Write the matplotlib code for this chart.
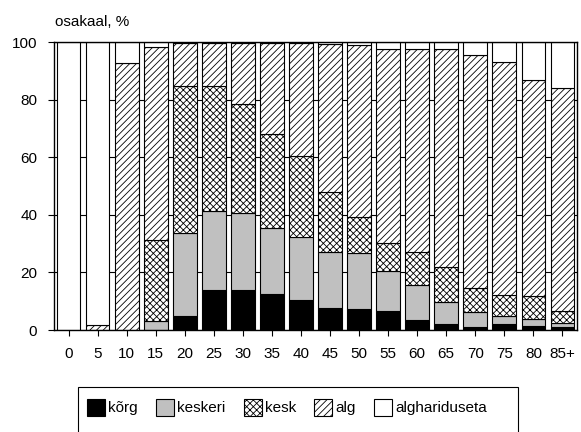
import matplotlib
matplotlib.use("Agg")
import matplotlib.pyplot as plt
import numpy as np
from matplotlib.patches import Rectangle

plt.rcParams['font.family'] = ['Liberation Sans', 'DejaVu Sans']
plt.rcParams['font.size'] = 11
plt.rcParams['hatch.linewidth'] = 0.6

vanus = ['0', '5', '10', '15', '20', '25', '30', '35', '40', '45',
         '50', '55', '60', '65', '70', '75', '80', '85+']
korg = [0, 0, 0, 0, 4.9, 13.9, 13.9, 12.5, 10.4, 7.6, 7.4, 6.6, 3.5, 2.1, 1.2, 2.1, 1.4, 1.2]
keskeri = [0, 0, 0, 3.2, 28.7, 27.3, 26.6, 22.8, 21.8, 19.4, 19.3, 13.8, 12.0, 7.7, 5.2, 2.8, 2.3, 1.1]
kesk = [0, 0, 0, 28.1, 51.1, 43.5, 38.0, 32.8, 28.2, 21.0, 12.5, 9.8, 11.5, 12.0, 8.2, 7.3, 8.2, 4.4]
alg = [0, 1.7, 92.6, 66.9, 14.8, 14.9, 21.1, 31.5, 39.2, 51.4, 59.6, 67.4, 70.7, 75.7, 80.9, 80.9, 75.0, 77.2]
alghariduseta = [100, 98.3, 7.4, 1.8, 0.5, 0.4, 0.4, 0.4, 0.4, 0.6, 1.2, 2.4, 2.3, 2.5, 4.5, 6.9, 13.1, 16.1]

seeriad = [
    ('kõrg', korg, 'black', None),
    ('keskeri', keskeri, '#c0c0c0', None),
    ('kesk', kesk, 'white', 'xxxxx'),
    ('alg', alg, 'white', '/////'),
    ('alghariduseta', alghariduseta, 'white', None),
]

fig = plt.figure(figsize=(5.81, 4.32), dpi=100)
ax = fig.add_axes([54 / 581, 1 - 330 / 432, 523 / 581, 288 / 432])

x = np.arange(len(vanus))
alus = np.zeros(len(vanus))
kastid = []
for nimi, vaartused, varv, muster in seeriad:
    b = ax.bar(x, vaartused, 0.82, bottom=alus, color=varv, edgecolor='black',
               linewidth=0.8, hatch=muster, label=nimi, zorder=2)
    kastid.append(b)
    alus = alus + np.array(vaartused)

ax.set_xlim(-0.5, len(vanus) - 0.5)
ax.set_ylim(0, 100)
ax.set_xticks(x)
ax.set_xticklabels(vanus)
ax.set_yticks([0, 20, 40, 60, 80, 100])
ax.tick_params(direction='out', length=4, width=0.8, pad=8)
ax.yaxis.grid(True, color='black', linewidth=0.8)
ax.set_axisbelow(True)
for s in ax.spines.values():
    s.set_linewidth(1.0)

fig.text(55 / 581, 1 - 26 / 432, 'osakaal, %', ha='left', va='baseline')

fig.legend(handles=kastid, loc='upper left', bbox_to_anchor=(87 / 581, 1 - 399 / 432),
           ncol=5, frameon=False, borderpad=0, borderaxespad=0,
           handlelength=1.18, handleheight=1.3, handletextpad=0.2, columnspacing=1.2)
fig.patches.append(Rectangle((78 / 581, -0.05), 440 / 581, 0.05 + 45 / 432,
                             transform=fig.transFigure, fill=False, edgecolor='black',
                             linewidth=0.8, figure=fig))

fig.savefig('out.png', dpi=100)
